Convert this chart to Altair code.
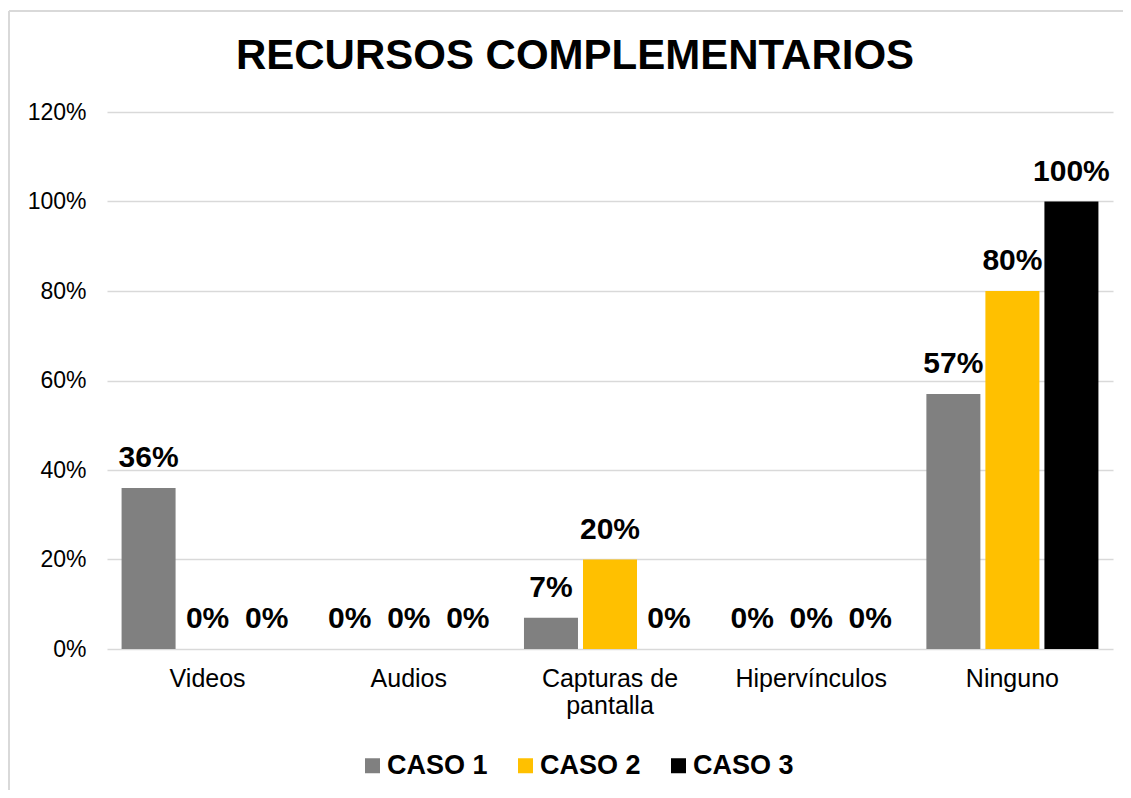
import altair as alt
import pandas as pd

categories = ["Videos", "Audios", "Capturas de pantalla", "Hipervínculos", "Ninguno"]
series = ["CASO 1", "CASO 2", "CASO 3"]
caso1 = [0.36, 0.00, 0.07, 0.00, 0.57]
caso2 = [0.00, 0.00, 0.20, 0.00, 0.80]
caso3 = [0.00, 0.00, 0.00, 0.00, 1.00]
colors = ["#808080", "#FFC000", "#000000"]
y_ticks = [0, 0.2, 0.4, 0.6, 0.8, 1.0, 1.2]
title_text = "RECURSOS COMPLEMENTARIOS"

rows = []
for s, vals in zip(series, [caso1, caso2, caso3]):
    for c, v in zip(categories, vals):
        rows.append({"cat": c, "serie": s, "v": v})
df = pd.DataFrame(rows)

FONT = "Liberation Sans"

x_enc = alt.X("cat:N", sort=categories,
              scale=alt.Scale(paddingInner=0, paddingOuter=0),
              axis=alt.Axis(title=None, labelAngle=0, domain=False, ticks=False,
                            labelFontSize=25, labelFont=FONT, labelColor="#000000",
                            labelPadding=17, labelLineHeight=27,
                            labelExpr="datum.label == 'Capturas de pantalla' ? ['Capturas de', 'pantalla'] : datum.label"))
xo_enc = alt.XOffset("serie:N", sort=series,
                     scale=alt.Scale(paddingInner=0.085, paddingOuter=0.247))
y_enc = alt.Y("v:Q", scale=alt.Scale(domain=[0, 1.2], nice=False),
              axis=alt.Axis(title=None, values=y_ticks, format=".0%", domain=False,
                            ticks=False, grid=True, gridColor="#d9d9d9", gridWidth=1.5,
                            labelFontSize=23, labelFont=FONT, labelColor="#000000",
                            labelPadding=21))

bars = alt.Chart(df).mark_bar().encode(
    x=x_enc, xOffset=xo_enc, y=y_enc,
    color=alt.Color("serie:N", sort=series,
                    scale=alt.Scale(domain=series, range=colors),
                    legend=alt.Legend(title=None, orient="none", direction="horizontal",
                                      legendX=252, legendY=640, padding=0,
                                      symbolType="square", symbolSize=225,
                                      symbolStrokeWidth=0, labelFontSize=27,
                                      labelFontWeight="bold", labelFont=FONT,
                                      labelColor="#000000", labelOffset=1,
                                      columnPadding=24)),
)

labels = alt.Chart(df).mark_text(
    fontSize=30, fontWeight="bold", font=FONT, color="#000000",
    baseline="alphabetic", align="center", dy=-21,
).encode(
    x=alt.X("cat:N", sort=categories),
    xOffset=alt.XOffset("serie:N", sort=series),
    y=alt.Y("v:Q"),
    text=alt.Text("v:Q", format=".0%"),
)

title = alt.Chart(alt.Data(values=[{"t": title_text}])).mark_text(
    fontSize=42, fontWeight="bold", font=FONT, color="#000000",
    align="center", baseline="alphabetic",
).encode(x=alt.value(468), y=alt.value(-43), text="t:N")

border_top = alt.Chart(alt.Data(values=[{"a": 1}])).mark_rule(
    stroke="#d9d9d9", strokeWidth=2,
).encode(x=alt.value(-98), x2=alt.value(1200), y=alt.value(-101))
border_left = alt.Chart(alt.Data(values=[{"a": 1}])).mark_rule(
    stroke="#d9d9d9", strokeWidth=2,
).encode(x=alt.value(-98), y=alt.value(-101), y2=alt.value(900))

chart = alt.layer(border_top, border_left, bars, labels, title).properties(
    width=1006, height=537,
    autosize=alt.AutoSizeParams(type="none"),
    padding={"left": 99, "top": 104, "right": 10, "bottom": 141},
    background="#ffffff",
).configure_view(stroke=None)

chart.save("out.html", embed_options={"renderer": "svg", "actions": False})
